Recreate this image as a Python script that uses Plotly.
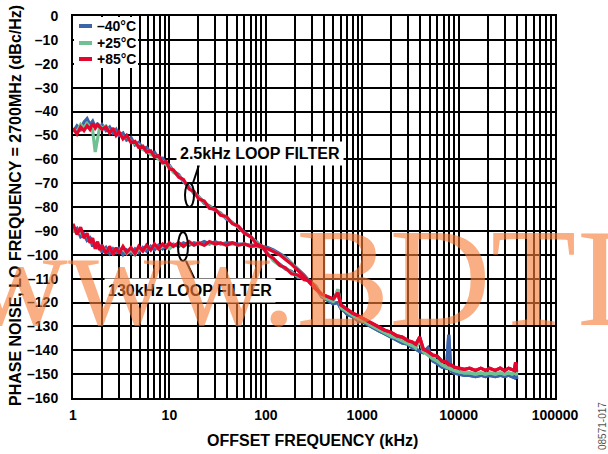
import plotly.graph_objects as go

# ---------------- data ----------------
freq_lo = [1.0, 1.1, 1.2, 1.3, 1.4, 1.5, 1.6, 1.7, 1.8, 1.9,
           2.0, 2.2, 2.4, 2.6, 2.8, 3.0, 3.3, 3.6, 4.0, 4.4,
           4.8, 5.3, 5.8, 6.4, 7.0, 7.7, 8.5, 9.3, 10, 11,
           12.5, 14, 16, 18, 20, 23, 26, 30, 34, 39,
           45, 52, 60, 70, 80, 92, 105, 120, 140, 160,
           185, 215, 250, 290, 330]

freq_hi = [380, 430, 500, 560, 600, 650, 700, 800, 900, 1000,
           1150, 1300, 1500, 1700, 2000, 2300, 2600, 3000, 3300, 3600,
           3950, 4300, 4800, 5400, 6000, 6700, 7500, 7900, 8300, 9000,
           10000, 11500, 13000, 15000, 17000, 19000, 21000, 24000, 27000, 30000,
           33000, 36000, 38000, 39000, 40000]

# 2.5 kHz loop filter, low/mid offsets
lf25_m40 = [-48.5, -46.0, -47.5, -44.5, -43.0, -45.5, -44.0, -46.5, -45.0, -47.0,
            -45.5, -48.0, -46.5, -49.0, -47.5, -50.0, -49.0, -52.0, -51.0, -54.0,
            -53.0, -55.5, -55.0, -57.5, -57.0, -59.5, -59.5, -62.0, -62.5, -65.0,
            -66.5, -69.5, -71.5, -74.5, -75.5, -78.5, -79.5, -81.5, -82.5, -85.0,
            -86.5, -88.5, -90.5, -93.0, -94.5, -97.0, -99.5, -102.0, -104.0, -106.0,
            -107.0, -109.5, -109.5, -111.5, -113.0]
lf25_p25 = [-47.5, -48.5, -45.5, -47.0, -45.0, -46.5, -48.0, -57.0, -52.0, -46.0,
            -47.0, -46.0, -48.5, -47.5, -49.5, -49.0, -51.0, -50.5, -52.5, -53.5,
            -54.0, -56.0, -56.5, -58.0, -58.5, -60.0, -61.0, -62.5, -63.0, -65.5,
            -67.0, -69.0, -72.0, -74.0, -76.0, -78.0, -80.0, -81.0, -83.0, -84.5,
            -86.5, -88.5, -91.0, -92.5, -95.0, -96.5, -99.5, -102.5, -104.5, -105.5,
            -107.5, -109.0, -110.0, -111.0, -113.5]
lf25_p85 = [-47.0, -49.5, -46.5, -48.0, -46.0, -47.5, -45.0, -47.0, -45.5, -46.5,
            -47.5, -46.5, -49.0, -47.0, -50.0, -48.5, -51.5, -50.0, -53.0, -52.5,
            -55.0, -54.5, -57.0, -56.5, -59.0, -58.5, -61.5, -61.0, -64.0, -64.5,
            -67.5, -68.5, -72.5, -73.5, -76.5, -77.5, -80.5, -81.0, -83.5, -84.0,
            -87.0, -88.0, -91.0, -92.5, -95.5, -96.5, -100.0, -101.5, -104.5, -105.5,
            -108.0, -108.5, -110.5, -111.0, -114.0]

# 130 kHz loop filter, low/mid offsets
lf130_m40 = [-90.5, -89.0, -92.5, -91.5, -94.0, -93.0, -96.5, -95.0, -97.5, -96.0,
             -99.0, -97.0, -99.5, -97.5, -99.0, -97.5, -100.0, -98.0, -99.5, -97.5,
             -99.0, -97.0, -98.5, -96.5, -98.0, -96.0, -97.5, -96.0, -97.0, -95.5,
             -96.5, -95.0, -96.0, -95.0, -95.5, -94.5, -95.5, -94.5, -95.5, -95.0,
             -95.0, -95.5, -95.5, -96.0, -96.0, -96.5, -97.0, -98.0, -99.5, -101.0,
             -103.5, -106.0, -108.5, -111.5, -114.0]
lf130_p25 = [-89.5, -91.0, -90.5, -92.5, -92.0, -94.5, -94.0, -96.0, -95.5, -97.5,
             -96.5, -98.5, -97.0, -99.5, -98.0, -98.5, -97.0, -99.5, -98.0, -100.0,
             -97.5, -98.5, -96.5, -97.5, -96.0, -97.5, -96.5, -96.0, -97.5, -96.0,
             -95.5, -96.5, -95.0, -96.0, -95.0, -96.0, -95.0, -95.5, -95.0, -96.0,
             -95.5, -96.0, -95.5, -96.5, -96.5, -97.0, -97.5, -98.5, -100.0, -101.5,
             -103.5, -106.5, -109.0, -112.0, -114.0]
lf130_p85 = [-87.0, -91.5, -88.5, -93.0, -91.0, -95.0, -93.0, -97.5, -94.5, -98.0,
             -96.0, -99.5, -96.5, -100.0, -97.0, -99.5, -96.5, -99.0, -97.0, -99.5,
             -96.5, -98.5, -96.0, -98.0, -95.5, -97.5, -95.5, -97.0, -95.0, -96.5,
             -95.0, -96.5, -94.5, -96.0, -95.0, -96.0, -94.5, -95.5, -95.0, -96.0,
             -95.0, -96.0, -95.5, -96.5, -96.0, -97.0, -97.5, -98.5, -100.0, -102.0,
             -104.0, -106.5, -109.0, -112.0, -114.5]

# common high-offset tail (both loop filters merge)
tail_m40 = [-117.5, -119.0, -120.5, -120.0, -122.5, -123.5, -125.0, -126.0, -127.5, -128.0,
            -129.5, -130.5, -132.0, -133.0, -134.5, -135.5, -137.0, -137.5, -139.0, -139.5,
            -140.5, -141.0, -139.0, -144.5, -145.5, -147.0, -147.5, -133.5, -148.5, -149.5,
            -150.0, -150.5, -150.5, -151.0, -150.5, -151.0, -150.5, -151.0, -150.5, -151.0,
            -150.5, -151.0, -151.5, -146.0, -152.0]
tail_p25 = [-117.0, -118.5, -119.5, -114.5, -122.0, -123.0, -124.0, -125.5, -126.5, -127.5,
            -129.0, -130.0, -131.5, -132.5, -134.0, -135.0, -136.0, -137.0, -138.0, -139.0,
            -135.5, -140.5, -142.0, -143.5, -144.5, -146.0, -147.0, -147.5, -148.0, -148.5,
            -149.0, -149.5, -149.5, -150.0, -149.5, -150.0, -149.5, -150.0, -149.5, -150.0,
            -149.5, -150.0, -149.5, -145.5, -150.5]
tail_p85 = [-116.5, -117.5, -118.5, -116.0, -121.0, -122.0, -123.0, -124.5, -125.5, -126.5,
            -127.5, -129.0, -130.0, -131.5, -132.5, -134.0, -134.5, -136.0, -136.5, -137.5,
            -134.5, -139.5, -140.5, -142.0, -142.5, -144.5, -145.0, -146.0, -146.0, -147.0,
            -147.5, -148.0, -147.5, -148.5, -147.5, -148.5, -147.5, -148.5, -147.5, -148.5,
            -147.5, -148.0, -148.5, -145.0, -149.0]

series_names = ["\u201340\u00b0C", "+25\u00b0C", "+85\u00b0C"]
series_colors = ["#3d64a8", "#6fc193", "#e2072e"]

x_tickvals = [1, 10, 100, 1000, 10000, 100000]
x_ticktext = ["1", "10", "100", "1000", "10000", "100000"]
y_tickvals = [0, -10, -20, -30, -40, -50, -60, -70, -80, -90, -100,
              -110, -120, -130, -140, -150, -160]
y_ticktext = ["0" if v == 0 else "\u2013" + str(-v) for v in y_tickvals]

# ---------------- figure ----------------
FONT = "Liberation Sans, Arial, sans-serif"
fig = go.Figure()

lf25 = [lf25_m40, lf25_p25, lf25_p85]
lf130 = [lf130_m40, lf130_p25, lf130_p85]
tails = [tail_m40, tail_p25, tail_p85]

for i in range(3):
    for k, lo in enumerate((lf25[i], lf130[i])):
        fig.add_trace(go.Scatter(
            x=freq_lo + freq_hi, y=lo + tails[i], mode="lines",
            name=series_names[i] + (" 2.5kHz" if k == 0 else " 130kHz"),
            line=dict(color=series_colors[i], width=3.2),
            showlegend=False, hoverinfo="skip"))

def px(xpix):
    return (xpix - 73) / 482.0

def py(ypix):
    return (398 - ypix) / 382.0

def b(s):
    return "<b>" + s + "</b>"

fig.update_layout(
    width=608, height=454,
    margin=dict(l=73, r=53, t=16, b=56, autoexpand=False),
    paper_bgcolor="white", plot_bgcolor="white",
    font=dict(family=FONT, size=14, color="black"),
    showlegend=False,
    xaxis=dict(type="log", range=[0, 5],
               tickvals=x_tickvals, ticktext=[b(t) for t in x_ticktext],
               showgrid=True, gridcolor="black", gridwidth=1.5,
               minor=dict(dtick="D1", showgrid=True, gridcolor="black", gridwidth=1.5),
               showline=True, linecolor="black", linewidth=2, mirror=True,
               ticks="", ticklabelstandoff=3,
               tickfont=dict(family=FONT, size=14),
               zeroline=False),
    yaxis=dict(range=[-160, 0], tickvals=y_tickvals, ticktext=[b(t) for t in y_ticktext],
               showgrid=True, gridcolor="black", gridwidth=1.5,
               showline=True, linecolor="black", linewidth=2, mirror=True,
               ticks="", ticklabelstandoff=10,
               tickfont=dict(family=FONT, size=14),
               zeroline=False),
)

CM = dict(xref="paper", yref="paper", xanchor="center", yanchor="middle", showarrow=False)
annotations = [
    # axis titles
    dict(text=b("OFFSET FREQUENCY (kHz)"), x=px(312), y=py(440),
         font=dict(family=FONT, size=16), **CM),
    dict(text=b("PHASE NOISE, LO FREQUENCY = 2700MHz (dBc/Hz)"), x=px(15), y=py(206),
         textangle=-90, font=dict(family=FONT, size=16), **CM),
    # loop filter labels
    dict(text=b("2.5kHz LOOP FILTER"), x=px(260), y=py(153),
         bgcolor="white", borderpad=3, font=dict(family=FONT, size=16), **CM),
    dict(text=b("130kHz LOOP FILTER"), x=px(190), y=py(290),
         bgcolor="white", borderpad=3, font=dict(family=FONT, size=16), **CM),
    # figure id
    dict(text="08571-017", x=px(602), y=py(426), textangle=-90,
         font=dict(family=FONT, size=10, color="#555555"), **CM),
]

# legend (compact, as in the reference)
legend_rows_y = [26, 43, 59]
shapes = [
    dict(type="rect", xref="paper", yref="paper", layer="above",
         x0=px(74), x1=px(138), y0=py(68), y1=py(17),
         fillcolor="white", line=dict(width=0)),
]
for i in range(3):
    shapes.append(dict(type="line", xref="paper", yref="paper", layer="above",
                       x0=px(79), x1=px(92), y0=py(legend_rows_y[i]), y1=py(legend_rows_y[i]),
                       line=dict(color=series_colors[i], width=4)))
    annotations.append(dict(text=b(series_names[i]), x=px(96), y=py(legend_rows_y[i]),
                            xref="paper", yref="paper", xanchor="left", yanchor="middle",
                            showarrow=False, borderpad=0,
                            font=dict(family=FONT, size=14, color="black")))

# watermark
annotations.append(dict(text="www.BDTI", x=px(-35), y=py(277), xref="paper", yref="paper",
                        xanchor="left", yanchor="middle", showarrow=False,
                        font=dict(family="Liberation Serif, Times New Roman, serif", size=140,
                                  color="rgba(245,125,55,0.62)")))

shapes += [
    dict(type="circle", xref="paper", yref="paper",
         x0=px(185), x1=px(194), y0=py(207), y1=py(183),
         line=dict(color="black", width=2)),
    dict(type="line", xref="paper", yref="paper",
         x0=px(193), y0=py(183), x1=px(199), y1=py(165),
         line=dict(color="black", width=2)),
    dict(type="circle", xref="paper", yref="paper",
         x0=px(178), x1=px(188), y0=py(261), y1=py(232),
         line=dict(color="black", width=2)),
    dict(type="line", xref="paper", yref="paper",
         x0=px(186), y0=py(261), x1=px(195), y1=py(280),
         line=dict(color="black", width=2)),
]
fig.update_layout(annotations=annotations, shapes=shapes)

fig.write_html("out.html", config={"displayModeBar": False},
               post_script="document.body.style.margin='0';document.body.style.padding='0';")
